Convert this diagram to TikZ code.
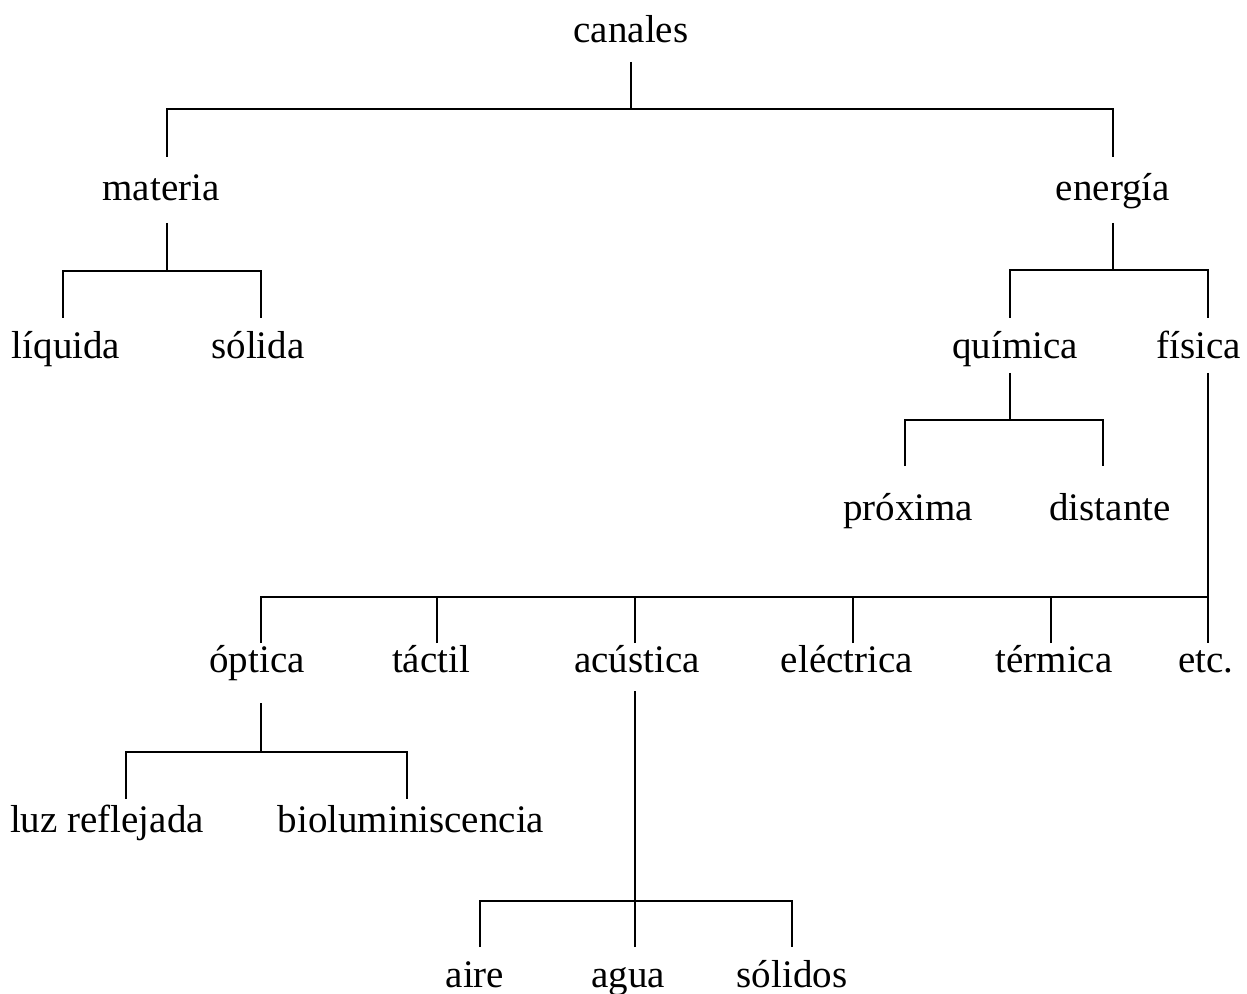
\documentclass[tikz,border=0pt]{standalone}
\usepackage{fontspec}
\setmainfont{Liberation Serif}
\usepackage{tikz}
\usetikzlibrary{calc,positioning}

\begin{document}
\begin{tikzpicture}[x=0.5pt, y=-0.5pt, line width=1pt]
   \useasboundingbox (0,0) rectangle (1247,994);
   \tikzset{lbl/.style={anchor=base, inner sep=0pt, font=\fontsize{19.5}{23}\selectfont},
            lvlA/.style={text height=12pt, text depth=9pt},
            lvlB/.style={text height=21.5pt, text depth=10.5pt},
            lvlC/.style={text height=20pt, text depth=6.5pt},
            lvlD/.style={text height=26.5pt, text depth=5pt},
            lvlE/.style={text height=14pt, text depth=9pt},
            lvlF/.style={text height=16pt, text depth=5pt},
            lvlG/.style={text height=19.5pt, text depth=5pt}}
   \begin{scope}[every node/.style={lbl}]
    \node (canales) [lvlA] at (631,43) {canales};
    \node (materia) [lvlB] at (161,201) {materia};
    \node (energia) [lvlB] at (1113,201) {energía};
    \node (liquida) [lvlC] at (66,359) {líquida};
    \node (solida) [lvlC] at (258,359) {sólida};
    \node (quimica) [lvlC] at (1015,359) {química};
    \node (fisica) [lvlC] at (1199,359) {física};
    \node (proxima) [lvlD] at (908,520) {próxima};
    \node (distante) [lvlD] at (1110,520) {distante};
    \node (optica) [lvlE, text depth=15pt] at (257,672) {óptica};
    \node (tactil) [lvlE] at (431,672) {táctil};
    \node (acustica) [lvlE] at (637,672) {acústica};
    \node (electrica) [lvlE] at (847,672) {eléctrica};
    \node (termica) [lvlE] at (1054,672) {térmica};
    \node (etc) [lvlE] at (1206,672) {etc.};
    \node (luz) [lvlF] at (107,832) {luz reflejada};
    \node (bio) [lvlF] at (411,832) {bioluminiscencia};
    \node (aire) [lvlG] at (475,987) {aire};
    \node (agua) [lvlG] at (628,987) {agua};
    \node (solidos) [lvlG] at (792,987) {sólidos};
   \end{scope}
   % junctions on the bars
   \coordinate (kCan) at (631,109);
   \coordinate (kMat) at (167,271);
   \coordinate (kEne) at (1113,270);
   \coordinate (kQui) at (1010,420);
   \coordinate (kFis) at (1208,597);
   \coordinate (kOpt) at (261,752);
   \coordinate (kAcu) at (635,901);
   \begin{scope}
    \draw (canales.south) -- (kCan);
    \draw ([xshift=3pt]materia.north) |- (kCan) -| (energia.north);
    \draw ([xshift=3pt]materia.south) -- (kMat);
    \draw ([xshift=-1.5pt]liquida.north) |- (kMat) -| ([xshift=1.5pt]solida.north);
    \draw (energia.south) -- (kEne);
    \draw ([xshift=-2.5pt]quimica.north) |- (kEne) -| ([xshift=4.5pt]fisica.north);
    \draw ([xshift=-2.5pt]quimica.south) -- (kQui);
    \draw ([xshift=-1.5pt]proxima.north) |- (kQui) -| ([xshift=-3.5pt]distante.north);
    \draw ([xshift=4.5pt]fisica.south) -- (kFis);
    \draw ([xshift=2pt]optica.north) |- (kFis) -- ([xshift=1pt]etc.north);
    \foreach \n/\s in {tactil/3, acustica/-1, electrica/3, termica/-1.5}
     \draw ([xshift=\s pt]\n.north) |- (kFis);
    \draw ([xshift=2pt]optica.south) -- (kOpt);
    \draw ([xshift=9.5pt]luz.north) |- (kOpt) -| ([xshift=-2pt]bio.north);
    \draw ([xshift=-1pt]acustica.south) -- (kAcu);
    \draw ([xshift=2.5pt]aire.north) |- (kAcu) -| (solidos.north);
    \draw ([xshift=3.5pt]agua.north) -- (kAcu);
   \end{scope}
\end{tikzpicture}
\end{document}
